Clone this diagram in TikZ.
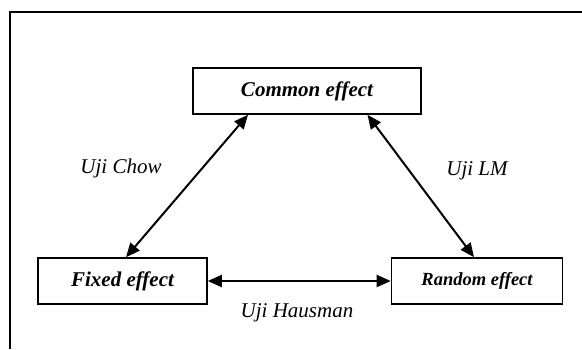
\documentclass[tikz,border=0pt]{standalone}
\usepackage{fontspec}
\setmainfont{Liberation Serif}
\usetikzlibrary{arrows.meta}

\tikzset{
  modelbox/.style={draw,line width=1.6pt,minimum height=46pt,inner sep=0pt,
    font=\fontsize{21}{25}\selectfont\bfseries\itshape},
  ujilabel/.style={font=\fontsize{21}{25}\selectfont\itshape},
  ujiarrow/.style={line width=2pt,
    {Triangle[length=14pt,width=12pt]}-{Triangle[length=14pt,width=12pt]}}
}

\begin{document}
\begin{tikzpicture}[x=1pt,y=-1pt]
  \useasboundingbox (0,0) rectangle (582,349);
  \draw[line width=1.8pt] (10,349) -- (10,12) -- (582,12);

  \node[modelbox,minimum width=228pt] (common) at (307,91) {Common effect};
  \node[modelbox,minimum width=169pt] (fixed) at (122.5,281) {Fixed effect};
  \node[modelbox,minimum width=171pt,font=\fontsize{18.5}{22}\selectfont\bfseries\itshape]
    (random) at (477,281) {Random effect};

  \draw[ujiarrow] ([xshift=-59pt]common.south) -- ([xshift=3.5pt]fixed.north);
  \draw[ujiarrow] ([xshift=60.5pt]common.south) -- ([xshift=-3pt]random.north);
  \draw[ujiarrow] (fixed.east) -- (random.west);

  \node[ujilabel] (chow) at (121,168) {Uji Chow};
  \node[ujilabel] (lm) at (477,171) {Uji LM};
  \node[ujilabel] (hausman) at (297,313) {Uji Hausman};
\end{tikzpicture}
\end{document}
